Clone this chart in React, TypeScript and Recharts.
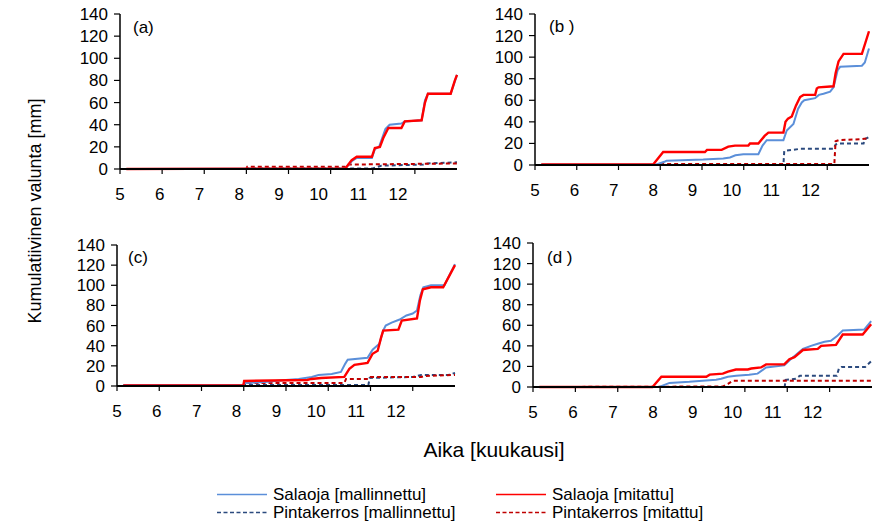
import React from 'react';
import { LineChart, Line, XAxis, YAxis } from 'recharts';

type Pt = [number, number];

const MONTHS = [5, 6, 7, 8, 9, 10, 11, 12];
const Y_TICKS = [0, 20, 40, 60, 80, 100, 120, 140];
// month labels are spaced a bit tighter than the tick marks in the original
const LABEL_RATIO = 0.943;

// (a)
const A_SAL_MALLI: Pt[] = [[5.15, 0], [10.35, 0.5], [10.5, 7], [10.62, 10], [10.98, 10], [11.05, 18], [11.15, 20], [11.3, 36], [11.4, 40], [11.68, 41], [11.76, 43], [12.16, 44], [12.24, 62], [12.31, 68], [12.85, 68], [13, 85]];
const A_SAL_MIT: Pt[] = [[5.15, 0], [10.35, 0.5], [10.5, 8], [10.62, 11], [10.98, 11], [11.05, 19], [11.17, 20], [11.25, 28], [11.37, 37], [11.68, 37], [11.76, 43], [12.16, 44], [12.24, 60], [12.31, 68], [12.85, 68], [12.95, 80], [13, 85]];
const A_PIN_MALLI: Pt[] = [[5.15, 0], [8.0, 0], [8.02, 0.5], [11.0, 0.5], [11.2, 3], [12.2, 4], [12.3, 5], [13, 6]];
const A_PIN_MIT: Pt[] = [[5.15, 0], [8.0, 0], [8.02, 2], [10.35, 2], [10.4, 4], [13, 5]];

// (b)
const B_SAL_MALLI: Pt[] = [[5.15, 0.5], [7.91, 0.5], [8.1, 3], [8.15, 4], [9.03, 5], [9.51, 6], [9.67, 7], [9.8, 9], [9.99, 10], [10.35, 10], [10.45, 18], [10.55, 23], [10.95, 23], [11.03, 32], [11.19, 38], [11.3, 52], [11.39, 58], [11.45, 60], [11.71, 62], [11.8, 65], [11.91, 66], [12.07, 68], [12.15, 72], [12.25, 88], [12.31, 91], [12.83, 92], [12.9, 95], [13.0, 108]];
const B_SAL_MIT: Pt[] = [[5.15, 0.5], [7.83, 0.5], [8.07, 12], [9.07, 12], [9.12, 14], [9.47, 14], [9.63, 17], [9.79, 18], [10.11, 18], [10.15, 20], [10.35, 20], [10.5, 27], [10.59, 30], [10.95, 30], [11.0, 40], [11.06, 43], [11.15, 45], [11.25, 55], [11.35, 63], [11.43, 65], [11.71, 65], [11.75, 71], [11.79, 72], [12.15, 73], [12.2, 85], [12.27, 96], [12.39, 103], [12.83, 103], [13.0, 124]];
const B_PIN_MALLI: Pt[] = [[5.15, 0], [10.95, 0], [10.97, 13], [11.35, 15], [12.15, 15], [12.2, 19], [12.27, 20], [12.87, 20], [12.9, 24], [13.0, 26]];
const B_PIN_MIT: Pt[] = [[5.15, 0], [7.9, 0], [8.0, 1], [12.17, 1], [12.2, 22], [12.27, 23], [12.83, 24], [13.0, 25]];

// (c)
const C_SAL_MALLI: Pt[] = [[5.15, 1], [7.99, 1], [8.02, 3], [8.5, 4], [9.0, 6], [9.3, 7], [9.61, 9], [9.77, 11], [10.08, 12], [10.3, 14], [10.4, 22], [10.46, 26], [10.93, 28], [11.05, 36], [11.21, 42], [11.3, 55], [11.36, 60], [11.5, 63], [11.69, 66], [11.85, 70], [12.0, 72], [12.1, 75], [12.18, 90], [12.25, 98], [12.43, 100], [12.75, 100], [13, 121]];
const C_SAL_MIT: Pt[] = [[5.15, 0.5], [7.99, 0.5], [8.01, 5], [9.5, 6], [9.6, 7], [9.83, 8], [10.38, 9], [10.5, 17], [10.62, 21], [10.93, 23], [11.05, 32], [11.17, 35], [11.25, 48], [11.3, 55], [11.66, 56], [11.74, 65], [12.1, 67], [12.17, 85], [12.24, 96], [12.43, 98], [12.72, 98], [13, 120]];
const C_PIN_MALLI: Pt[] = [[5.15, 0], [7.99, 0], [8.02, 1], [10.95, 1], [10.98, 8], [12.0, 9], [12.2, 11], [12.85, 11], [13, 13]];
const C_PIN_MIT: Pt[] = [[5.15, 0.5], [7.99, 0.5], [8.01, 3], [10.38, 3], [10.42, 7], [10.95, 7], [11.0, 9], [12.2, 9], [12.3, 10], [13, 11]];

// (d)
const D_SAL_MALLI: Pt[] = [[5.15, 0], [7.98, 0], [8.22, 4], [8.69, 5], [9.0, 6], [9.32, 7], [9.44, 8], [9.6, 10], [9.79, 11], [10.1, 12], [10.3, 13], [10.5, 19], [10.93, 21], [11.08, 27], [11.2, 31], [11.37, 37], [11.56, 40], [11.72, 42], [11.88, 44], [12.03, 45], [12.19, 50], [12.31, 55], [12.82, 56], [12.98, 64]];
const D_SAL_MIT: Pt[] = [[5.15, 0], [7.82, 0], [8.03, 10], [9.09, 10], [9.17, 12], [9.48, 13], [9.6, 15], [9.79, 17], [10.07, 17], [10.15, 18], [10.38, 19], [10.5, 22], [10.93, 22], [11.05, 27], [11.17, 29], [11.37, 36], [11.72, 37], [11.8, 40], [12.15, 41], [12.31, 51], [12.78, 51], [12.98, 61]];
const D_PIN_MALLI: Pt[] = [[5.15, 0], [10.94, 0], [10.96, 7], [11.2, 8], [11.3, 11], [12.17, 11], [12.22, 18], [12.28, 19.5], [12.84, 19.5], [12.98, 25]];
const D_PIN_MIT: Pt[] = [[5.15, 0], [9.48, 0.5], [9.6, 3], [9.71, 6], [13, 6]];

const STYLES = [
  { name: 'Salaoja [mallinnettu]', color: '#5B8FD9', dash: undefined, width: 2 },
  { name: 'Salaoja [mitattu]', color: '#FF0000', dash: undefined, width: 2.4 },
  { name: 'Pintakerros [mallinnettu]', color: '#2B4A7E', dash: '4 3', width: 2 },
  { name: 'Pintakerros [mitattu]', color: '#C00000', dash: '4 3', width: 2 },
];

const FONT = '"Liberation Sans", Arial, sans-serif';

const toRows = (pts: Pt[]) => pts.map(([t, v]) => ({ t, v }));

interface Box { left: number; top: number; right: number; bottom: number }

const PANELS: { label: string; box: Box; series: Pt[][] }[] = [
  { label: '(a)', box: { left: 120, top: 14, right: 457, bottom: 169 }, series: [A_PIN_MALLI, A_PIN_MIT, A_SAL_MALLI, A_SAL_MIT] },
  { label: '(b )', box: { left: 535, top: 14, right: 869, bottom: 165 }, series: [B_PIN_MALLI, B_PIN_MIT, B_SAL_MALLI, B_SAL_MIT] },
  { label: '(c)', box: { left: 117, top: 245, right: 455, bottom: 386 }, series: [C_PIN_MALLI, C_PIN_MIT, C_SAL_MALLI, C_SAL_MIT] },
  { label: '(d )', box: { left: 533, top: 243, right: 872, bottom: 387 }, series: [D_PIN_MALLI, D_PIN_MIT, D_SAL_MALLI, D_SAL_MIT] },
];
// draw order above: dashed first, then solid; map back to STYLES index
const ORDER = [2, 3, 0, 1];

const Panel = ({ box, series }: { box: Box; series: Pt[][] }) => {
  const yW = 70;
  const padT = 10;
  const padR = 12;
  const xH = 36;
  const width = box.right - box.left + yW + padR;
  const height = box.bottom - box.top + padT + xH;
  const step = (box.right - box.left) / 8;

  // month label drawn a little left of its tick mark, like the original
  const MonthTick = (props: any) => {
    const { x, y, payload } = props;
    const shift = (payload.value - 5) * step * (1 - LABEL_RATIO);
    return (
      <text x={x - shift} y={y} dy="0.71em" textAnchor="middle" fontSize={17} fill="#000">
        {payload.value}
      </text>
    );
  };

  return (
    <div style={{ position: 'absolute', left: box.left - yW, top: box.top - padT }}>
      <LineChart width={width} height={height} margin={{ top: padT, right: padR, bottom: 0, left: 0 }}>
        <XAxis
          type="number"
          dataKey="t"
          domain={[5, 13]}
          ticks={MONTHS}
          interval={0}
          tick={<MonthTick />}
          tickSize={5}
          tickMargin={14}
          height={xH}
          axisLine={{ stroke: '#000', strokeWidth: 2 }}
          tickLine={{ stroke: '#000', strokeWidth: 1.2 }}
        />
        <YAxis
          type="number"
          domain={[0, 140]}
          ticks={Y_TICKS}
          interval={0}
          width={yW}
          tickSize={6}
          tickMargin={6}
          axisLine={{ stroke: '#000', strokeWidth: 1.5 }}
          tickLine={{ stroke: '#000', strokeWidth: 1.2 }}
          tick={{ fill: '#000', fontSize: 17 }}
        />
        {series.map((pts, i) => {
          const s = STYLES[ORDER[i]];
          return (
            <Line
              key={i}
              data={toRows(pts)}
              dataKey="v"
              type="linear"
              stroke={s.color}
              strokeWidth={s.width}
              strokeDasharray={s.dash}
              dot={false}
              activeDot={false}
              isAnimationActive={false}
            />
          );
        })}
      </LineChart>
    </div>
  );
};

export default function App() {
  const legendRows = [
    { y: 494.5, items: [{ x: 217, s: STYLES[0] }, { x: 496, s: STYLES[1] }] },
    { y: 512.5, items: [{ x: 217, s: STYLES[2] }, { x: 496, s: STYLES[3] }] },
  ];
  return (
    <div style={{ position: 'absolute', left: 0, top: 0, width: 879, height: 532, background: '#fff', fontFamily: FONT, overflow: 'hidden' }}>
      {PANELS.map((p) => (
        <Panel key={p.label} box={p.box} series={p.series} />
      ))}
      <svg width={879} height={532} style={{ position: 'absolute', left: 0, top: 0, pointerEvents: 'none' }} fontFamily={FONT}>
        <text x={133} y={27} fontSize={17} dominantBaseline="central">(a)</text>
        <text x={549} y={26} fontSize={17} dominantBaseline="central">(b )</text>
        <text x={128} y={257} fontSize={17} dominantBaseline="central">(c)</text>
        <text x={547} y={257} fontSize={17} dominantBaseline="central">(d )</text>
        <text x={35} y={211} fontSize={18} textAnchor="middle" dominantBaseline="central" transform="rotate(-90 35 211)">
          Kumulatiivinen valunta [mm]
        </text>
        <text x={494} y={449} fontSize={21} textAnchor="middle" dominantBaseline="central">Aika [kuukausi]</text>
        {legendRows.map((row, r) =>
          row.items.map((it, k) => (
            <g key={`${r}-${k}`}>
              <line x1={it.x} x2={it.x + 50} y1={row.y} y2={row.y} stroke={it.s.color} strokeWidth={1.6} strokeDasharray={it.s.dash ? '4 2.5' : undefined} />
              <text x={it.x + 56} y={row.y} fontSize={17} dominantBaseline="central">{it.s.name}</text>
            </g>
          ))
        )}
      </svg>
    </div>
  );
}
